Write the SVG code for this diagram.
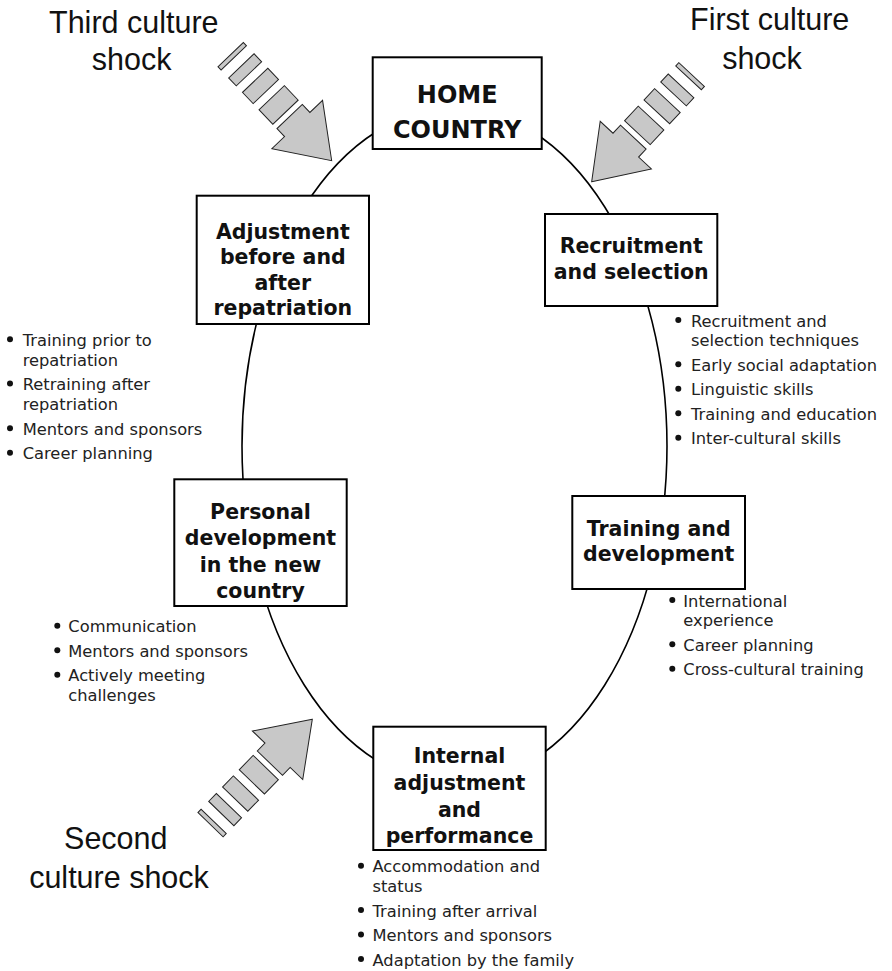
<svg xmlns="http://www.w3.org/2000/svg" width="892" height="971" viewBox="0 0 892 971">
<style>
.box{fill:#fff;stroke:#000;stroke-width:2}
.bt{font-family:"DejaVu Sans",sans-serif;font-weight:bold;font-size:20.5px;text-anchor:middle;fill:#111}
.home{font-size:24px}
.li{font-family:"DejaVu Sans",sans-serif;font-size:16.3px;fill:#222}
.dot{fill:#111}
.title{font-family:"Liberation Sans",Arial,sans-serif;font-size:30.5px;text-anchor:middle;fill:#111}
.shock{fill:#c8c8c8;stroke:#222;stroke-width:1;stroke-linejoin:miter}
.cycle{fill:none;stroke:#000;stroke-width:1.6}
</style>
<defs>
<g id="shockArrow">
<polygon class="shock" points="0,0 -50,-35 -50,-17.5 -61,-17.5 -61,17.5 -50,17.5 -50,35"/>
<rect class="shock" x="-87" y="-17.5" width="20" height="35"/>
<rect class="shock" x="-111" y="-17.5" width="15.5" height="35"/>
<rect class="shock" x="-131" y="-17.5" width="11" height="35"/>
<rect class="shock" x="-146.5" y="-17.5" width="4.5" height="35"/>
</g>
</defs>
<rect width="892" height="971" fill="#fff"/>

<g id="connectors">
<ellipse class="cycle" cx="454.5" cy="446" rx="212.5" ry="338"/>
</g>

<g id="third-shock">
<use href="#shockArrow" transform="translate(331.7,160.7) rotate(46.4)"/>
<text class="title" x="133.8" y="33">Third culture</text>
<text class="title" x="131.7" y="70">shock</text>
</g>
<g id="first-shock">
<use href="#shockArrow" transform="translate(591.7,181.7) rotate(133)"/>
<text class="title" x="769.7" y="30">First culture</text>
<text class="title" x="762" y="68.5">shock</text>
</g>
<g id="second-shock">
<use href="#shockArrow" transform="translate(312.3,719.3) rotate(-46)"/>
<text class="title" x="115.8" y="849">Second</text>
<text class="title" x="119" y="888">culture shock</text>
</g>

<g id="home-country">
<rect class="box" x="372.7" y="57.3" width="169" height="91.7"/>
<text class="bt home" x="457.2" y="103.3">HOME</text>
<text class="bt home" x="457.2" y="138">COUNTRY</text>
</g>

<g id="recruitment">
<rect class="box" x="545" y="214" width="172.3" height="92"/>
<text class="bt" x="631.2" y="253.3">Recruitment</text>
<text class="bt" x="631.2" y="279">and selection</text>
<circle class="dot" cx="678.3" cy="320" r="3"/>
<text class="li" x="691" y="326.5">Recruitment and</text>
<text class="li" x="691" y="346.3">selection techniques</text>
<circle class="dot" cx="678.3" cy="364.3" r="3"/>
<text class="li" x="691" y="370.8">Early social adaptation</text>
<circle class="dot" cx="678.3" cy="388.8" r="3"/>
<text class="li" x="691" y="395.3">Linguistic skills</text>
<circle class="dot" cx="678.3" cy="413.3" r="3"/>
<text class="li" x="691" y="419.8">Training and education</text>
<circle class="dot" cx="678.3" cy="437.8" r="3"/>
<text class="li" x="691" y="444.3">Inter-cultural skills</text>
</g>

<g id="training">
<rect class="box" x="572.3" y="496" width="172.7" height="93"/>
<text class="bt" x="658.7" y="535.5">Training and</text>
<text class="bt" x="658.7" y="561">development</text>
<circle class="dot" cx="672.3" cy="600" r="3"/>
<text class="li" x="683.3" y="606.5">International</text>
<text class="li" x="683.3" y="626.3">experience</text>
<circle class="dot" cx="672.3" cy="644.3" r="3"/>
<text class="li" x="683.3" y="650.8">Career planning</text>
<circle class="dot" cx="672.3" cy="668.8" r="3"/>
<text class="li" x="683.3" y="675.3">Cross-cultural training</text>
</g>

<g id="internal">
<rect class="box" x="373.3" y="726.7" width="172.4" height="123.3"/>
<text class="bt" x="459.5" y="763.3">Internal</text>
<text class="bt" x="459.5" y="790">adjustment</text>
<text class="bt" x="459.5" y="816.7">and</text>
<text class="bt" x="459.5" y="843.3">performance</text>
<circle class="dot" cx="361" cy="865.8" r="3"/>
<text class="li" x="372.5" y="872.3">Accommodation and</text>
<text class="li" x="372.5" y="892.1">status</text>
<circle class="dot" cx="361" cy="910.1" r="3"/>
<text class="li" x="372.5" y="916.6">Training after arrival</text>
<circle class="dot" cx="361" cy="934.6" r="3"/>
<text class="li" x="372.5" y="941.1">Mentors and sponsors</text>
<circle class="dot" cx="361" cy="959.1" r="3"/>
<text class="li" x="372.5" y="965.6">Adaptation by the family</text>
</g>

<g id="personal">
<rect class="box" x="174.3" y="479.3" width="172.4" height="126.7"/>
<text class="bt" x="260.5" y="519.3">Personal</text>
<text class="bt" x="260.5" y="545">development</text>
<text class="bt" x="260.5" y="571.7">in the new</text>
<text class="bt" x="260.5" y="598.3">country</text>
<circle class="dot" cx="57.3" cy="625.8" r="3"/>
<text class="li" x="68.3" y="632.3">Communication</text>
<circle class="dot" cx="57.3" cy="650.3" r="3"/>
<text class="li" x="68.3" y="656.8">Mentors and sponsors</text>
<circle class="dot" cx="57.3" cy="674.8" r="3"/>
<text class="li" x="68.3" y="681.3">Actively meeting</text>
<text class="li" x="68.3" y="701.1">challenges</text>
</g>

<g id="adjustment">
<rect class="box" x="196.7" y="195.7" width="172.3" height="128.3"/>
<text class="bt" x="282.8" y="238.5">Adjustment</text>
<text class="bt" x="282.8" y="264">before and</text>
<text class="bt" x="282.8" y="289.5">after</text>
<text class="bt" x="282.8" y="315">repatriation</text>
<circle class="dot" cx="10" cy="339.2" r="3"/>
<text class="li" x="22.7" y="345.7">Training prior to</text>
<text class="li" x="22.7" y="365.5">repatriation</text>
<circle class="dot" cx="10" cy="383.5" r="3"/>
<text class="li" x="22.7" y="390">Retraining after</text>
<text class="li" x="22.7" y="409.8">repatriation</text>
<circle class="dot" cx="10" cy="428.3" r="3"/>
<text class="li" x="22.7" y="434.8">Mentors and sponsors</text>
<circle class="dot" cx="10" cy="452.8" r="3"/>
<text class="li" x="22.7" y="459.3">Career planning</text>
</g>
</svg>
